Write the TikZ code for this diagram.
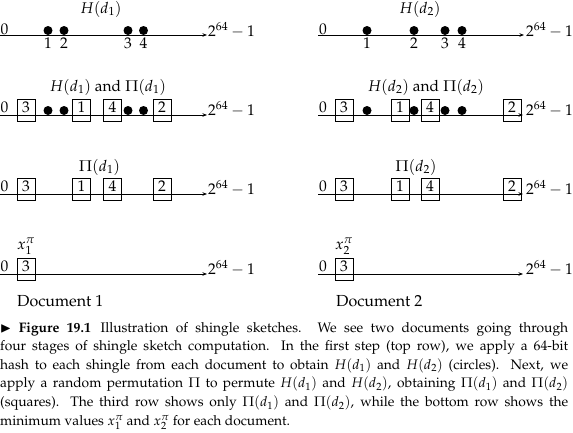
\documentclass[tikz,border=0pt]{standalone}
\usepackage[T1]{fontenc}
\usepackage{mathpazo}
\usepackage{amssymb}
\usetikzlibrary{arrows.meta}
\tikzset{
  lbl/.style={inner sep=0pt, font=\fontsize{15.5}{18}\selectfont},
  doclbl/.style={inner sep=0pt, anchor=base west, font=\fontsize{16}{19}\selectfont},
  sq/.style={draw, line width=0.7pt, inner sep=0pt, minimum width=18pt,
    text height=13pt, text depth=9pt, anchor=base, font=\fontsize{15.5}{18}\selectfont},
  dot/.style={circle, fill=black, inner sep=0pt, minimum size=9pt},
  axis/.style={line width=0.7pt, -{Stealth[length=4.5pt,width=3.5pt]}},
}
\begin{document}
\begin{tikzpicture}[x=1pt,y=-1pt]
\useasboundingbox (0,0) rectangle (573,432);
% ---------------- Row 1 ----------------
\coordinate (a1s) at (0,35);   \coordinate (a1e) at (207,35);
\coordinate (b1s) at (318,35); \coordinate (b1e) at (524,35);
\draw[axis] (a1s) -- (a1e);
\draw[axis] (b1s) -- (b1e);
\node[lbl, anchor=base west] (za1) at (0.5,34.5) {0};
\node[lbl, anchor=base west] (zb1) at (319,34.5) {0};
\node[lbl, anchor=base west] (ma1) at (208,36) {$2^{64}-1$};
\node[lbl, anchor=base west] (mb1) at (526,36) {$2^{64}-1$};
\node[lbl, anchor=base] (ta1) at (101,13) {$H(d_1)$};
\node[lbl, anchor=base] (tb1) at (420,13) {$H(d_2)$};
\node[dot] (pa11) at (48,30.5) {};
\node[dot] (pa12) at (64,30.5) {};
\node[dot] (pa13) at (128,30.5) {};
\node[dot] (pa14) at (143.5,30.5) {};
\node[dot] (pb11) at (367,30.5) {};
\node[dot] (pb12) at (414,30.5) {};
\node[dot] (pb13) at (445,30.5) {};
\node[dot] (pb14) at (462,30.5) {};
\node[lbl, anchor=base] (na1) at (48,48) {1};
\node[lbl, anchor=base] (na2) at (64,48) {2};
\node[lbl, anchor=base] (na3) at (128,48) {3};
\node[lbl, anchor=base] (na4) at (143.5,48) {4};
\node[lbl, anchor=base] (nb1) at (367,48) {1};
\node[lbl, anchor=base] (nb2) at (414,48) {2};
\node[lbl, anchor=base] (nb3) at (445,48) {3};
\node[lbl, anchor=base] (nb4) at (462,48) {4};
% ---------------- Row 2 ----------------
\coordinate (a2s) at (0,115);   \coordinate (a2e) at (207,115);
\coordinate (b2s) at (318,115); \coordinate (b2e) at (523,115);
\draw[axis] (a2s) -- (a2e);
\draw[axis] (b2s) -- (b2e);
\node[lbl, anchor=base west] (za2) at (0.5,112) {0};
\node[lbl, anchor=base west] (zb2) at (319,112) {0};
\node[lbl, anchor=base west] (ma2) at (208,115) {$2^{64}-1$};
\node[lbl, anchor=base west] (mb2) at (526,115) {$2^{64}-1$};
\node[lbl, anchor=base] (ta2) at (108,91) {$H(d_1)$ and $\Pi(d_1)$};
\node[lbl, anchor=base] (tb2) at (426,91) {$H(d_2)$ and $\Pi(d_2)$};
\node[sq] (sa23) at (26,112) {3};
\node[sq] (sa21) at (81.5,112) {1};
\node[sq] (sa24) at (112.5,112) {4};
\node[sq] (sa22) at (162,112) {2};
\node[sq] (sb23) at (344,112) {3};
\node[sq] (sb21) at (400,112) {1};
\node[sq] (sb24) at (430,112) {4};
\node[sq] (sb22) at (512,112) {2};
\node[dot] (pa21) at (48,110.5) {};
\node[dot] (pa22) at (64,110.5) {};
\node[dot] (pa23) at (128,110.5) {};
\node[dot] (pa24) at (143.5,110.5) {};
\node[dot] (pb21) at (367,110.5) {};
\node[dot] (pb22) at (414,110.5) {};
\node[dot] (pb23) at (445,110.5) {};
\node[dot] (pb24) at (462,110.5) {};
% ---------------- Row 3 ----------------
\coordinate (a3s) at (0,194);   \coordinate (a3e) at (207,194);
\coordinate (b3s) at (318,194); \coordinate (b3e) at (523,194);
\draw[axis] (a3s) -- (a3e);
\draw[axis] (b3s) -- (b3e);
\node[lbl, anchor=base west] (za3) at (0.5,191) {0};
\node[lbl, anchor=base west] (zb3) at (319,191) {0};
\node[lbl, anchor=base west] (ma3) at (208,194) {$2^{64}-1$};
\node[lbl, anchor=base west] (mb3) at (526,194) {$2^{64}-1$};
\node[lbl, anchor=base] (ta3) at (99.5,171) {$\Pi(d_1)$};
\node[lbl, anchor=base] (tb3) at (416,171) {$\Pi(d_2)$};
\node[sq] (sa33) at (26,191) {3};
\node[sq] (sa31) at (81.5,191) {1};
\node[sq] (sa34) at (112.5,191) {4};
\node[sq] (sa32) at (162,191) {2};
\node[sq] (sb33) at (344,191) {3};
\node[sq] (sb31) at (400,191) {1};
\node[sq] (sb34) at (430,191) {4};
\node[sq] (sb32) at (512,191) {2};
% ---------------- Row 4 ----------------
\coordinate (a4s) at (0,274);   \coordinate (a4e) at (207,274);
\coordinate (b4s) at (318,274); \coordinate (b4e) at (523,274);
\draw[axis] (a4s) -- (a4e);
\draw[axis] (b4s) -- (b4e);
\node[lbl, anchor=base west] (za4) at (0.5,271) {0};
\node[lbl, anchor=base west] (zb4) at (319,271) {0};
\node[lbl, anchor=base west] (ma4) at (208,274) {$2^{64}-1$};
\node[lbl, anchor=base west] (mb4) at (526,274) {$2^{64}-1$};
\node[sq] (sa43) at (26,271) {3};
\node[sq] (sb43) at (344,271) {3};
\node[lbl, anchor=base] (xa) at (26,249) {$x_1^{\pi}$};
\node[lbl, anchor=base] (xb) at (344,249) {$x_2^{\pi}$};
\node[doclbl] (da) at (17,306) {Document 1};
\node[doclbl] (db) at (336,306) {Document 2};
% ---------------- Caption ----------------
\node[anchor=north west, inner sep=0pt, text width=568pt, align=justify,
  font=\fontsize{13.8}{18.6}\selectfont] (cap) at (0,322)
  {$\blacktriangleright$ \textbf{Figure 19.1}\hspace{0.7em}Illustration of shingle sketches. We see two documents going through\linebreak
  four stages of shingle sketch computation. In the first step (top row), we apply a 64-bit\linebreak
  hash to each shingle from each document to obtain $H(d_1)$ and $H(d_2)$ (circles). Next, we\linebreak
  apply a random permutation $\Pi$ to permute $H(d_1)$ and $H(d_2)$, obtaining $\Pi(d_1)$ and $\Pi(d_2)$\linebreak
  (squares). The third row shows only $\Pi(d_1)$ and $\Pi(d_2)$, while the bottom row shows the\linebreak
  minimum values $x_1^{\pi}$ and $x_2^{\pi}$ for each document.\par};
\end{tikzpicture}
\end{document}
